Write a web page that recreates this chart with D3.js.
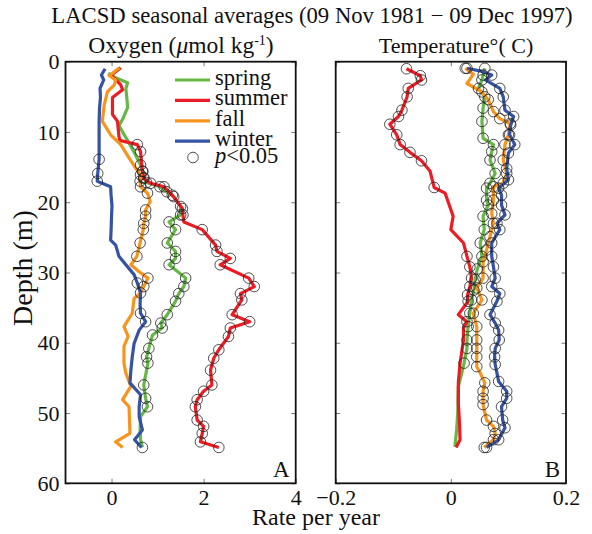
<!DOCTYPE html>
<html><head><meta charset="utf-8">
<script src="https://cdn.jsdelivr.net/npm/d3@7"></script>
<style>
body{margin:0;background:#fff}
svg{display:block}
text{font-family:"Liberation Serif","Times New Roman",serif;fill:#111}
</style>
</head><body>
<svg id="c" width="592" height="534"></svg>
<script>
// ---------- data ----------
const seasons = ["spring", "summer", "fall", "winter"];
const seasonColors = ["#66b846", "#ec1c24", "#f7941d", "#3552a3"];
const depthTicks = [0, 10, 20, 30, 40, 50, 60];
const depthTickLabels = ["0", "10", "20", "30", "40", "50", "60"];
const oxygenTicks = [0, 2, 4];
const oxygenTickLabels = ["0", "2", "4"];
const tempTicks = [-0.2, 0, 0.2];
const tempTickLabels = ["\u22120.2", "0", "0.2"];

// each row: [depth (m), rate per year, significant p<0.05 (1/0)]
const oxySpring = [[1.6,-0.07,0],[2.1,0.02,0],[3.0,0.35,0],[3.8,0.31,0],[5.0,0.33,0],[6.5,0.35,0],[8.2,0.24,0],[9.1,0.16,0],[11.0,0.33,0],[13.0,0.50,0],[14.7,0.63,1],[15.6,0.68,1],[16.5,0.70,1],[17.2,0.76,1],[17.8,1.05,1],[18.5,1.20,1],[19.2,1.35,1],[20.6,1.50,1],[21.8,1.50,1],[22.8,1.25,1],[23.9,1.39,1],[25.8,1.21,1],[27.0,1.39,1],[28.0,1.39,1],[28.9,1.25,1],[30.8,1.61,1],[32.0,1.57,1],[33.0,1.46,1],[34.1,1.39,1],[36.0,1.21,1],[37.2,1.07,1],[37.9,1.10,1],[38.9,0.89,1],[40.8,0.81,1],[42.0,0.76,1],[42.9,0.79,1],[46.0,0.70,1],[47.9,0.74,1],[49.1,0.78,1],[50.5,0.63,0],[52.4,0.62,0],[53.8,0.63,0],[54.9,0.67,1]];
const oxySummer = [[0.85,0.20,0],[1.9,0.00,0],[3.3,0.20,0],[4.0,0.24,0],[5.1,0.02,0],[7.5,0.02,0],[8.5,0.13,0],[10.6,0.16,0],[11.2,0.18,0],[11.8,0.56,1],[12.8,0.63,1],[14.2,0.65,0],[15.6,0.67,1],[16.6,0.70,1],[17.3,0.85,1],[17.8,1.14,1],[19.0,1.32,1],[20.9,1.54,1],[21.8,1.55,1],[22.8,1.57,0],[23.9,1.97,1],[26.1,2.26,1],[27.0,2.29,1],[28.0,2.58,1],[28.9,2.36,1],[30.8,2.98,1],[32.0,3.10,1],[33.0,2.80,1],[33.9,2.83,1],[36.0,2.62,1],[37.0,3.00,1],[37.9,2.58,1],[39.1,2.54,1],[41.0,2.33,1],[42.2,2.22,1],[43.9,2.15,1],[46.0,2.18,1],[46.9,2.00,1],[48.1,1.86,1],[49.1,1.82,1],[51.0,1.86,1],[51.9,2.00,1],[52.9,1.97,1],[54.1,1.93,1],[54.9,2.33,1]];
const oxyFall = [[0.85,0.17,0],[2.0,-0.05,0],[2.6,0.09,0],[3.3,0.06,0],[4.3,-0.09,0],[6.2,-0.16,0],[8.5,-0.20,0],[10.4,-0.02,0],[11.8,0.20,0],[13.7,0.38,0],[15.2,0.53,0],[16.1,0.63,1],[17.0,0.62,1],[17.8,0.63,1],[18.7,0.78,1],[19.9,0.84,0],[21.1,0.74,1],[22.0,0.74,1],[23.0,0.70,1],[23.9,0.69,1],[25.8,0.62,1],[27.7,0.55,1],[28.9,0.42,0],[29.9,0.60,0],[30.8,0.79,1],[32.0,0.70,1],[32.9,0.63,1],[33.7,0.49,0],[35.8,0.45,0],[37.7,0.27,0],[39.1,0.36,0],[40.5,0.27,0],[42.9,0.27,0],[44.3,0.31,0],[46.2,0.42,0],[48.1,0.24,0],[49.1,0.38,0],[52.9,0.40,0],[54.1,0.09,0],[54.9,0.24,0]];
const oxyWinter = [[1.0,-0.14,0],[1.9,-0.22,0],[2.6,-0.17,0],[3.8,-0.25,0],[5.0,-0.24,0],[6.5,-0.26,0],[8.5,-0.27,0],[10.5,-0.27,0],[12.5,-0.27,0],[13.9,-0.27,1],[15.9,-0.30,1],[17.0,-0.31,1],[17.8,-0.02,0],[19.0,-0.01,0],[20.5,0.01,0],[22.0,0.00,0],[24.0,-0.01,0],[25.4,-0.02,0],[26.1,0.09,0],[27.0,0.13,0],[27.7,0.16,0],[29.2,0.35,0],[30.3,0.49,0],[31.5,0.56,1],[32.9,0.63,0],[34.5,0.62,0],[35.8,0.63,1],[37.0,0.74,1],[38.2,0.60,0],[40.1,0.49,0],[42.0,0.45,0],[43.9,0.42,0],[45.7,0.40,0],[47.4,0.63,0],[49.1,0.60,0],[50.5,0.60,0],[52.4,0.67,0],[53.8,0.50,0],[54.9,0.65,0]];

const tempSpring = [[0.94,0.059,1],[1.9,0.056,1],[2.6,0.054,1],[3.8,0.048,1],[5.0,0.059,1],[6.6,0.056,1],[8.5,0.054,1],[10.9,0.056,1],[11.8,0.074,1],[12.8,0.071,1],[14.0,0.068,1],[15.9,0.077,1],[17.3,0.068,1],[18.0,0.062,1],[19.7,0.062,1],[20.4,0.065,1],[22.0,0.056,1],[23.9,0.058,1],[25.8,0.051,1],[27.7,0.054,1],[29.5,0.046,1],[31.0,0.042,1],[32.5,0.040,1],[33.9,0.036,1],[35.8,0.033,1],[37.7,0.030,1],[39.6,0.028,1],[40.8,0.028,1],[42.9,0.023,1],[44.3,0.019,0],[46.2,0.013,0],[50.0,0.012,0],[52.4,0.010,0],[54.8,0.007,0]];
const tempSummer = [[1.0,-0.077,1],[2.0,-0.053,1],[2.6,-0.051,1],[3.8,-0.074,1],[5.0,-0.076,1],[6.9,-0.085,1],[7.8,-0.091,1],[8.9,-0.106,1],[10.4,-0.094,1],[11.8,-0.088,1],[12.9,-0.071,1],[14.1,-0.051,1],[15.6,-0.036,0],[17.9,-0.029,1],[18.7,-0.010,0],[20.1,-0.004,0],[22.0,0.004,0],[23.9,0.000,0],[25.8,0.022,0],[27.7,0.028,1],[29.2,0.033,1],[30.8,0.036,1],[32.0,0.033,1],[33.2,0.029,1],[34.1,0.030,1],[36.0,0.013,0],[37.0,0.028,1],[37.9,0.022,0],[39.6,0.022,0],[42.9,0.016,0],[45.7,0.013,0],[48.6,0.013,0],[51.4,0.015,0],[53.8,0.016,0],[54.9,0.009,0]];
const tempFall = [[0.94,0.025,1],[1.8,0.039,0],[3.1,0.028,0],[4.3,0.054,1],[5.4,0.065,1],[7.1,0.074,1],[8.1,0.085,1],[8.8,0.103,1],[10.4,0.100,1],[11.8,0.094,1],[14.0,0.091,1],[15.9,0.097,1],[17.3,0.091,1],[17.8,0.074,1],[19.7,0.074,1],[21.6,0.071,1],[23.0,0.074,1],[24.9,0.068,1],[26.8,0.062,1],[28.5,0.056,1],[30.8,0.056,1],[32.2,0.045,1],[33.9,0.054,1],[35.8,0.039,1],[37.7,0.045,1],[39.6,0.045,1],[40.8,0.045,1],[42.0,0.045,1],[43.4,0.045,1],[44.3,0.051,0],[45.7,0.059,1],[46.9,0.056,1],[47.9,0.056,1],[48.8,0.056,1],[51.0,0.062,1],[51.9,0.074,1],[52.9,0.077,1],[53.8,0.074,1],[54.9,0.058,1]];
const tempWinter = [[0.94,0.028,1],[1.3,0.050,0],[1.9,0.071,1],[2.6,0.060,0],[3.8,0.085,1],[5.0,0.091,1],[6.9,0.094,1],[7.8,0.109,1],[9.0,0.104,1],[10.4,0.102,1],[11.8,0.111,1],[13.0,0.100,1],[15.2,0.097,1],[16.8,0.100,1],[18.0,0.083,1],[19.0,0.088,1],[20.4,0.088,1],[21.8,0.094,1],[23.0,0.080,1],[23.9,0.085,1],[25.8,0.071,1],[27.7,0.071,1],[29.2,0.074,1],[30.8,0.077,1],[32.0,0.071,1],[33.0,0.085,1],[34.1,0.080,1],[36.0,0.068,1],[37.2,0.077,1],[38.2,0.083,1],[39.6,0.084,1],[40.8,0.077,1],[42.0,0.076,1],[43.1,0.077,1],[45.5,0.083,1],[46.9,0.097,1],[47.9,0.097,1],[49.1,0.088,1],[51.0,0.090,1],[52.1,0.094,1],[53.8,0.083,1],[54.9,0.062,1]];

// ---------- drawing ----------
const FONT = '"Liberation Serif","Times New Roman",serif';
const svg = d3.select("#c");
const y = d3.scaleLinear().domain([0, 60]).range([61.7, 483.3]);

const panels = [
  {x0: 65.5, x1: 295.7, domain: [-1, 4], ticks: oxygenTicks, labels: oxygenTickLabels,
   series: [oxySpring, oxySummer, oxyFall, oxyWinter], showY: true, letter: "A"},
  {x0: 335.7, x1: 566, domain: [-0.2, 0.2], ticks: tempTicks, labels: tempTickLabels,
   series: [tempSpring, tempSummer, tempFall, tempWinter], showY: false, letter: "B"}
];

panels.forEach(p => {
  const x = d3.scaleLinear().domain(p.domain).range([p.x0, p.x1]);
  const g = svg.append("g");
  const axes = [
    [d3.axisLeft(y).tickValues(depthTicks).tickFormat((d, i) => p.showY ? depthTickLabels[i] : ""), `translate(${p.x0},0)`],
    [d3.axisRight(y).tickValues(depthTicks).tickFormat(() => ""), `translate(${p.x1},0)`],
    [d3.axisBottom(x).tickValues(p.ticks).tickFormat((d, i) => p.labels[i]), `translate(0,${y(60)})`],
    [d3.axisTop(x).tickValues(p.ticks).tickFormat(() => ""), `translate(0,${y(0)})`]
  ];
  axes.forEach(([a, t]) => {
    const gg = g.append("g").attr("transform", t)
      .call(a.tickSizeInner(-4.5).tickSizeOuter(0).tickPadding(6));
    gg.attr("font-family", FONT).attr("font-size", 22);
    gg.select(".domain").remove();
    gg.selectAll(".tick line").attr("stroke", "#7a7a7a").attr("stroke-width", 1);
    gg.selectAll(".tick text").attr("fill", "#111");
  });

  const line = d3.line().x(d => x(d[1])).y(d => y(d[0]));
  p.series.forEach((s, i) => {
    g.append("path").datum(s).attr("d", line)
      .attr("fill", "none").attr("stroke", seasonColors[i])
      .attr("stroke-width", 3.2).attr("stroke-linejoin", "round").attr("stroke-linecap", "butt");
  });
  p.series.forEach(s => {
    g.selectAll(null).data(s.filter(d => d[2] === 1)).enter().append("circle")
      .attr("cx", d => x(d[1])).attr("cy", d => y(d[0])).attr("r", 5.3)
      .attr("fill", "none").attr("stroke", "#222").attr("stroke-width", 0.8);
  });

  g.append("rect").attr("x", p.x0).attr("y", y(0))
    .attr("width", p.x1 - p.x0).attr("height", y(60) - y(0))
    .attr("fill", "none").attr("stroke", "#111").attr("stroke-width", 1.8);

  g.append("text").attr("x", p.x1 - 6).attr("y", 477).attr("text-anchor", "end")
    .attr("font-size", 23).text(p.letter);
});

// legend (panel A)
const leg = svg.append("g");
seasons.forEach((s, i) => {
  const ly = 80 + i * 20.4;
  leg.append("line").attr("x1", 175).attr("x2", 210).attr("y1", ly).attr("y2", ly)
    .attr("stroke", seasonColors[i]).attr("stroke-width", 3.2);
  leg.append("text").attr("x", 215).attr("y", ly + 5).attr("font-size", 22.5).text(s);
});
leg.append("circle").attr("cx", 193).attr("cy", 157.5).attr("r", 5.3)
  .attr("fill", "none").attr("stroke", "#222").attr("stroke-width", 0.8);
const pt = leg.append("text").attr("x", 215).attr("y", 163).attr("font-size", 22.5);
pt.append("tspan").attr("font-style", "italic").text("p");
pt.append("tspan").text("<0.05");

// titles
svg.append("text").attr("x", 312).attr("y", 23).attr("text-anchor", "middle")
  .attr("font-size", 22.7).text("LACSD seasonal averages (09 Nov 1981 \u2212 09 Dec 1997)");
const ox = svg.append("text").attr("x", 181).attr("y", 53).attr("text-anchor", "middle").attr("font-size", 23.5);
ox.append("tspan").text("Oxygen (");
ox.append("tspan").attr("font-style", "italic").text("\u03bc");
ox.append("tspan").text("mol kg");
ox.append("tspan").attr("font-size", 14).attr("dy", -8).text("-1");
ox.append("tspan").attr("dy", 8).text(")");
svg.append("text").attr("x", 456).attr("y", 53).attr("text-anchor", "middle")
  .attr("font-size", 22).text("Temperature\u00b0( C)");

// axis titles
svg.append("text").attr("x", 316).attr("y", 525).attr("text-anchor", "middle")
  .attr("font-size", 24).text("Rate per year");
svg.append("text").attr("transform", "translate(32,268) rotate(-90)").attr("text-anchor", "middle")
  .attr("font-size", 28).text("Depth (m)");
</script>
</body></html>
